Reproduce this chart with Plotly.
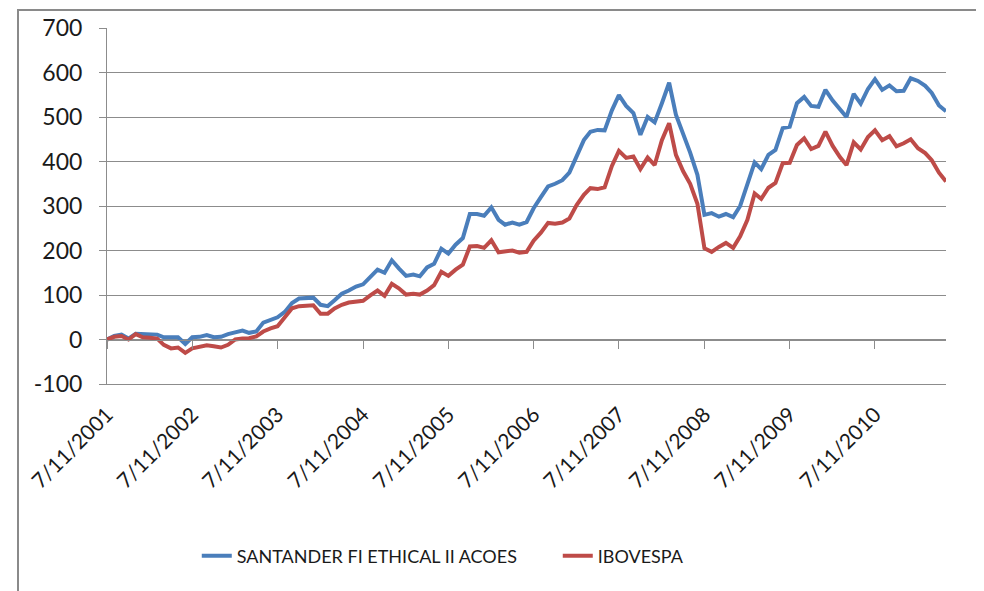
import pandas as pd
import plotly.graph_objects as go

start_date = "2001-07-11"
n_months = 119
dates = pd.date_range(start_date, periods=n_months, freq=pd.DateOffset(months=1))

santander = [0, 8, 11, 2, 13, 12, 12, 11, 5, 4, 5, -10, 5, 6, 10, 5, 6, 12, 15, 20,
             15, 18, 38, 43, 50, 62, 82, 92, 94, 94, 78, 75, 88, 103, 110, 119, 124, 139, 157, 150,
             178, 160, 143, 146, 142, 162, 170, 204, 193, 213, 228, 282, 282, 278, 297, 269, 258, 263, 258, 264,
             295, 320, 344, 350, 358, 375, 412, 448, 467, 471, 470, 515, 549, 525, 509, 460, 500, 488, 531, 577,
             505, 464, 420, 370, 280, 284, 276, 282, 275, 300, 352, 398, 383, 415, 426, 475, 478, 531, 545, 525,
             523, 561, 537, 518, 500, 552, 530, 563, 585, 561, 571, 558, 559, 587, 581, 570, 554, 526, 513]

ibovespa = [0, 6, 8, 0, 12, 5, 4, 2, -12, -20, -18, -30, -20, -17, -13, -15, -18, -12, 0, 2,
            3, 7, 18, 25, 30, 50, 70, 75, 76, 77, 58, 58, 70, 78, 83, 85, 87, 99, 110, 98,
            125, 115, 101, 103, 101, 110, 122, 152, 143, 157, 168, 209, 210, 206, 223, 196, 198, 200, 195, 197,
            222, 240, 262, 260, 263, 272, 302, 325, 340, 338, 342, 390, 424, 408, 411, 383, 409, 392, 448, 486,
            415, 378, 350, 305, 205, 197, 208, 217, 206, 232, 269, 328, 316, 341, 352, 396, 397, 437, 452, 428,
            435, 467, 435, 410, 392, 443, 427, 455, 470, 448, 457, 434, 441, 450, 430, 419, 403, 375, 355]

tick_dates = [f"{y}-07-11" for y in range(2001, 2011)]
tick_labels = [f"7/11/{y}" for y in range(2001, 2011)]
y_ticks = list(range(-100, 701, 100))
y_labels = [str(v) for v in y_ticks]

names = ["SANTANDER FI ETHICAL II ACOES", "IBOVESPA"]
colors = ["#4A7EBB", "#BE4B48"]

font = "Lato, 'Liberation Sans', Arial, sans-serif"
grid = "#8C8C8C"

fig = go.Figure()
for vals, name, col in zip([santander, ibovespa], names, colors):
    fig.add_trace(go.Scatter(x=dates, y=vals, mode="lines", name=name,
                             line=dict(color=col, width=4)))
# helper trace so the zero-crossing tick axis is drawn
fig.add_trace(go.Scatter(x=[dates[0]], y=[None], xaxis="x2", showlegend=False,
                         hoverinfo="skip", mode="lines"))

x_range = [dates[0], dates[-1]]

# page body has an 8px margin; figure is sized/offset to compensate
fig.update_layout(
    width=976, height=583,
    margin=dict(l=99, r=38, t=20, b=207),
    paper_bgcolor="white", plot_bgcolor="white",
    font=dict(family=font, size=22, color="#1a1a1a"),
    showlegend=True,
    legend=dict(orientation="h", x=0.107, xanchor="left", y=-0.483, yanchor="middle",
                font=dict(family=font, size=18, color="#1a1a1a"),
                entrywidth=316, entrywidthmode="pixels", bgcolor="rgba(0,0,0,0)"),
    xaxis=dict(type="date", range=x_range, tickvals=tick_dates, ticktext=tick_labels,
               tickangle=-45, ticks="", showgrid=False, showline=True, linecolor=grid,
               linewidth=1, zeroline=False, ticklabelstandoff=9, automargin=False,
               tickfont=dict(size=21, family=font)),
    xaxis2=dict(type="date", range=x_range, tickvals=tick_dates, overlaying="x",
                matches="x", anchor="free", position=0.125, showticklabels=False,
                ticks="outside", ticklen=8, tickcolor=grid, showline=True, automargin=False,
                linecolor=grid, linewidth=1, showgrid=False, zeroline=False),
    yaxis=dict(range=[-100, 700], tickvals=y_ticks, ticktext=y_labels,
               showgrid=True, gridcolor=grid, gridwidth=1, automargin=False,
               zeroline=False, showline=True, linecolor=grid, linewidth=1,
               ticks="outside", ticklen=7, tickcolor=grid, ticklabelstandoff=12,
               tickfont=dict(size=23, family=font)),
    shapes=[dict(type="rect", xref="paper", yref="paper",
                 x0=(18 - 107) / 839, x1=(979 - 107) / 839,
                 y0=(384 - 600) / 356, y1=(384 - 10) / 356,
                 line=dict(color="#8A8A8A", width=2), fillcolor="rgba(0,0,0,0)", layer="below")],
)

fig.write_html("out.html")
